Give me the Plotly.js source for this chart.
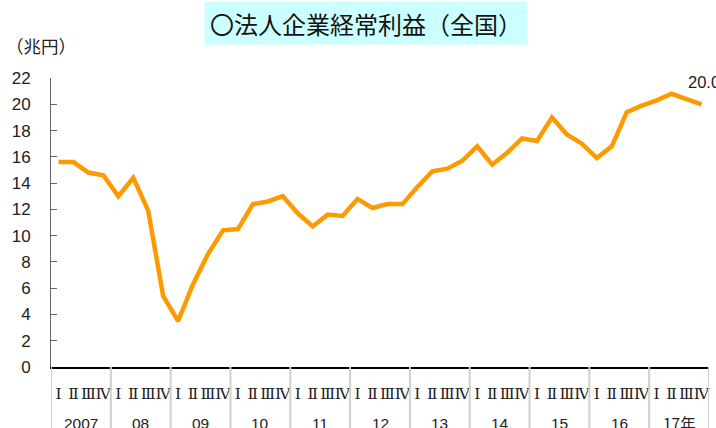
<!DOCTYPE html>
<html>
<head>
<meta charset="utf-8">
<script src="https://cdn.plot.ly/plotly-3.0.1.min.js"></script>
<style>html,body{margin:0;padding:0;background:#fff;}#chart{width:716px;height:428px;}</style>
</head>
<body>
<div id="chart"></div>
<script>
// Data: 法人企業経常利益（全国）, quarterly, 兆円
const years = ["2007", "08", "09", "10", "11", "12", "13", "14", "15", "16", "17年"];
const quarterLabels = ["Ⅰ", "Ⅱ", "Ⅲ", "Ⅳ"];
const profits = [
  15.6, 15.6, 14.8, 14.6,   // 2007
  13.0, 14.4, 11.9, 5.4,    // 2008
  3.5, 6.3, 8.6, 10.4,      // 2009
  10.5, 12.4, 12.6, 13.0,   // 2010
  11.7, 10.7, 11.6, 11.5,   // 2011
  12.8, 12.1, 12.4, 12.4,   // 2012
  13.7, 14.9, 15.1, 15.7,   // 2013
  16.8, 15.4, 16.3, 17.4,   // 2014
  17.2, 19.0, 17.7, 17.0,   // 2015
  15.9, 16.8, 19.4, 19.9,   // 2016
  20.3, 20.8, 20.4, 20.0    // 2017
];
const lastLabel = "20.0";
const titleText = "〇法人企業経常利益（全国）";
const unitText = "（兆円）";

const xIdx = profits.map((_, i) => i);
const tickText = xIdx.map(i => quarterLabels[i % 4]);

const sans = "Liberation Sans, Arial, sans-serif";
const jp = "Noto Sans CJK JP, sans-serif";

const trace = {
  x: xIdx, y: profits, type: "scatter", mode: "lines",
  line: {color: "#FF9900", width: 4.5},
  hoverinfo: "skip"
};

const shapes = [];
for (let k = 0; k <= years.length; k++) {
  shapes.push({
    type: "line", xref: "x", yref: "paper",
    x0: k * 4 - 0.5, x1: k * 4 - 0.5, y0: 0, y1: -0.25,
    line: {color: "#cfcfcf", width: 2}
  });
}

const annotations = [
  {
    text: titleText, xref: "paper", yref: "paper",
    x: (366 - 51) / 658, y: (367 - 22.5) / 289,
    xanchor: "center", yanchor: "middle", showarrow: false,
    width: 320, height: 40, bgcolor: "#ccffff",
    font: {family: jp, size: 24, color: "#111"}
  },
  {
    text: unitText, xref: "paper", yref: "paper",
    x: (4 - 51) / 658, y: (367 - 45) / 289,
    xanchor: "left", yanchor: "middle", showarrow: false,
    font: {family: jp, size: 17.5, color: "#222"}
  },
  {
    text: lastLabel, xref: "x", yref: "y",
    x: profits.length - 1, y: profits[profits.length - 1],
    xanchor: "left", yanchor: "middle", xshift: -16, yshift: 22,
    showarrow: false,
    font: {family: sans, size: 16.5, color: "#222"}
  }
];
years.forEach((yr, k) => {
  annotations.push({
    text: yr, xref: "x", yref: "paper",
    x: k * 4 + 1.5, y: (367 - 423) / 289,
    xanchor: "center", yanchor: "middle", showarrow: false,
    font: {family: yr.includes("年") ? jp : sans, size: 15.5, color: "#222"}
  });
});

const layout = {
  width: 716, height: 428,
  margin: {l: 51, r: 7, t: 78, b: 61, pad: 0},
  paper_bgcolor: "#fff", plot_bgcolor: "#fff",
  showlegend: false,
  xaxis: {
    range: [-0.5, profits.length - 0.5],
    tickmode: "array", tickvals: xIdx, ticktext: tickText,
    showline: true, linecolor: "#000", linewidth: 2,
    ticks: "", showgrid: false, zeroline: false,
    tickangle: 0, ticklabelstandoff: 11,
    tickfont: {family: "DejaVu Serif, Liberation Serif, serif", size: 15.5, color: "#222"},
    fixedrange: true
  },
  yaxis: {
    range: [0, 22], tickmode: "linear", tick0: 0, dtick: 2,
    ticks: "inside", ticklen: 6, tickcolor: "#666", tickwidth: 1,
    showline: true, linecolor: "#666", linewidth: 1,
    showgrid: false, zeroline: false, ticklabelstandoff: 16,
    tickfont: {family: sans, size: 17, color: "#222"},
    fixedrange: true
  },
  shapes: shapes,
  annotations: annotations
};

Plotly.newPlot("chart", [trace], layout, {staticPlot: true, displayModeBar: false});
</script>
</body>
</html>
